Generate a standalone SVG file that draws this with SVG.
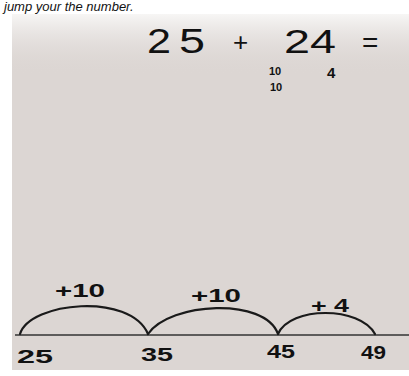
<svg xmlns="http://www.w3.org/2000/svg" width="409" height="376" viewBox="0 0 409 376">
<defs>
<style>
.hand{font-family:"Liberation Sans","DejaVu Sans",sans-serif;fill:#111;}
.lbl{font-size:19px;font-weight:bold;}
.arc{fill:none;stroke:#1a1a1a;stroke-width:2.2;stroke-linecap:round;}
</style>
<linearGradient id="topglow" x1="0" y1="0" x2="0" y2="1">
<stop offset="0" stop-color="#f7f6f5"/>
<stop offset="1" stop-color="#dcd6d3" stop-opacity="0"/>
</linearGradient>
</defs>
<rect x="0" y="0" width="409" height="376" fill="#ffffff"/>
<rect x="12" y="14" width="397" height="356" fill="#dcd6d3"/>
<rect x="12" y="14" width="397" height="60" fill="url(#topglow)"/>
<g id="heading">
<text class="hand" x="4" y="11" font-size="13" font-style="italic">jump your the number.</text>
</g>
<g id="equation">
<text class="hand" x="147" y="53" font-size="35" fill="#555" textLength="24" lengthAdjust="spacingAndGlyphs">2</text>
<text class="hand" x="179" y="53" font-size="35" textLength="26" lengthAdjust="spacingAndGlyphs">5</text>
<text class="hand" x="233" y="51" font-size="26">+</text>
<text class="hand" x="284" y="53" font-size="34" textLength="52" lengthAdjust="spacingAndGlyphs">24</text>
<text class="hand" x="362" y="52" font-size="28">=</text>
<text class="hand" x="269" y="75" font-size="11" font-weight="bold">10</text>
<text class="hand" x="270" y="91" font-size="11" font-weight="bold">10</text>
<text class="hand" x="327" y="78" font-size="15" font-weight="bold">4</text>
</g>
<g id="connectors">
<line x1="15" y1="335" x2="409" y2="335" stroke="#333" stroke-width="1.6"/>
<path class="arc" d="M20,334 C30,302 130,292 148,334"/>
<path class="arc" d="M148,334 C170,302 265,297 278,334"/>
<path class="arc" d="M278,334 C290,306 360,306 375,334"/>
</g>
<g id="jump1"><text class="hand lbl" x="55" y="297" textLength="50" lengthAdjust="spacingAndGlyphs">+10</text></g>
<g id="jump2"><text class="hand lbl" x="191" y="302" textLength="50" lengthAdjust="spacingAndGlyphs">+10</text></g>
<g id="jump3"><text class="hand lbl" x="311" y="312" textLength="38" lengthAdjust="spacingAndGlyphs">+ 4</text></g>
<g id="n25"><text class="hand lbl" x="17" y="363" font-size="21" textLength="36" lengthAdjust="spacingAndGlyphs">25</text></g>
<g id="n35"><text class="hand lbl" x="141" y="361" font-size="20" textLength="32" lengthAdjust="spacingAndGlyphs">35</text></g>
<g id="n45"><text class="hand lbl" x="267" y="358" font-size="19" textLength="28" lengthAdjust="spacingAndGlyphs">45</text></g>
<g id="n49"><text class="hand lbl" x="361" y="359" font-size="19" textLength="25" lengthAdjust="spacingAndGlyphs">49</text></g>
</svg>
